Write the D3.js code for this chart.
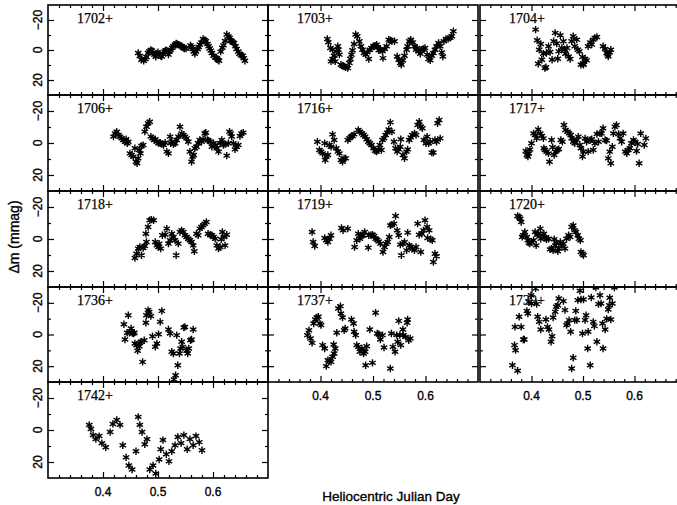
<!DOCTYPE html>
<html>
<head>
<meta charset="utf-8">
<script src="https://cdn.jsdelivr.net/npm/d3@7"></script>
<style>
  body { margin: 0; background: #fff; }
  svg { display: block; }
  text { stroke: #000; stroke-width: 0.35px; }
</style>
</head>
<body>
<div id="chart"></div>
<script>
// light curves: [fraction of HJD, delta m in mmag]
const s1702 = [[0.464,2.0],[0.467,4],[0.470,6.5],[0.474,7.2],[0.477,6],[0.479,4.7],[0.482,2],[0.484,0.9],[0.487,0],[0.489,0.4],[0.491,2],[0.493,3.1],[0.496,4.5],[0.498,2.5],[0.500,1.5],[0.502,2.7],[0.505,4],[0.507,4.3],[0.509,2.5],[0.512,0.9],[0.514,0.2],[0.516,0.4],[0.519,3.1],[0.521,1],[0.523,-0.2],[0.526,-1.5],[0.528,-2.5],[0.531,-3.5],[0.533,-4.3],[0.535,-4],[0.537,-3.6],[0.540,-3],[0.543,-2.5],[0.546,-1.5],[0.548,-0.9],[0.551,-1],[0.559,-3.1],[0.561,-2],[0.563,-0.7],[0.565,1],[0.567,2.5],[0.569,1],[0.572,-0.7],[0.574,-2],[0.576,-3.6],[0.579,-5],[0.582,-7.4],[0.585,-6.5],[0.587,-5.8],[0.590,-4],[0.592,-2.5],[0.594,-1],[0.596,0.4],[0.598,2],[0.601,3.8],[0.604,5],[0.607,5.4],[0.609,6.5],[0.611,7.2],[0.614,1.1],[0.617,-1.5],[0.619,-3.1],[0.622,-6],[0.625,-10.3],[0.628,-9],[0.630,-8.1],[0.632,-6.5],[0.634,-5.8],[0.636,-5],[0.638,-4.7],[0.641,-2.5],[0.643,-0.7],[0.646,1],[0.648,2.5],[0.651,3.5],[0.654,3.8],[0.656,5.5],[0.658,7.2]];
const s1703 = [[0.413,-7.4],[0.415,-5.1],[0.419,-1.3],[0.423,-0.2],[0.420,7.6],[0.423,6.0],[0.426,3.8],[0.428,7.6],[0.430,0.9],[0.433,-2.5],[0.434,-0.2],[0.436,3.1],[0.439,9.8],[0.442,10.5],[0.445,11.0],[0.448,11.6],[0.452,12.1],[0.455,8.7],[0.457,6.0],[0.459,3.1],[0.461,0.2],[0.464,-4.0],[0.467,-10.3],[0.470,-9.2],[0.474,-5.8],[0.477,-2.5],[0.480,-0.2],[0.483,2.0],[0.486,3.1],[0.489,1.6],[0.492,6.0],[0.494,-0.2],[0.497,-1.3],[0.501,-2.5],[0.504,-2.9],[0.507,-3.6],[0.509,-2.0],[0.511,0.2],[0.514,-0.2],[0.518,0.9],[0.519,5.4],[0.522,-0.7],[0.526,-2.5],[0.530,-6.9],[0.533,-6.5],[0.536,-5.8],[0.541,-5.8],[0.546,4.3],[0.549,6.5],[0.552,8.7],[0.554,9.8],[0.557,6.9],[0.560,3.8],[0.564,-0.2],[0.566,-2.5],[0.569,-5.8],[0.572,-6.9],[0.576,-5.1],[0.579,-2.5],[0.582,-0.2],[0.584,-1.3],[0.587,0.9],[0.590,2.5],[0.593,-0.2],[0.596,-0.7],[0.599,-1.3],[0.603,3.1],[0.606,6.0],[0.609,6.9],[0.612,3.8],[0.615,2.0],[0.618,-0.2],[0.621,-2.5],[0.625,-4.7],[0.628,-2.5],[0.631,1.6],[0.633,4.3],[0.635,-5.8],[0.639,-7.4],[0.643,-7.4],[0.647,-8.1],[0.650,-9.2],[0.653,-12.5]];
const s1704 = [[0.408,-13.6],[0.411,-6.5],[0.413,9.2],[0.415,-0.2],[0.418,-4.0],[0.420,6.5],[0.423,2.5],[0.426,12.1],[0.428,11.5],[0.429,2.0],[0.433,-2.5],[0.436,1.3],[0.440,6.5],[0.443,-5.8],[0.446,-11.4],[0.449,-4.3],[0.451,5.8],[0.453,0.9],[0.456,-9.8],[0.459,-1.3],[0.462,-5.8],[0.464,-0.2],[0.466,2.5],[0.469,-1.3],[0.472,4.3],[0.475,6.0],[0.478,-5.8],[0.481,-9.2],[0.484,-2.5],[0.488,-6.9],[0.490,-0.2],[0.493,0.9],[0.496,9.8],[0.499,4.7],[0.500,9.2],[0.501,9.8],[0.504,6.0],[0.507,6.9],[0.510,-2.5],[0.514,-5.1],[0.517,-3.6],[0.520,-6.9],[0.523,-8.1],[0.527,-8.7],[0.539,-2.5],[0.543,-0.7],[0.546,2.0],[0.548,3.0],[0.549,4.3],[0.552,1.6],[0.554,-0.2]];
const s1706 = [[0.419,-4.0],[0.422,-6.0],[0.425,-7.1],[0.428,-5.0],[0.431,-4.0],[0.434,-2.9],[0.437,-1.9],[0.440,-0.8],[0.442,-2.3],[0.444,0.2],[0.446,-0.8],[0.449,6.5],[0.452,7.5],[0.455,8.5],[0.458,3.3],[0.460,11.7],[0.462,12.7],[0.464,9.6],[0.466,4.4],[0.468,6.5],[0.470,1.9],[0.473,1.3],[0.476,-7.1],[0.479,-10.2],[0.482,-12.3],[0.485,-13.3],[0.487,-4.0],[0.490,-2.9],[0.493,-1.9],[0.495,-2.3],[0.498,-0.8],[0.501,0.2],[0.504,-0.2],[0.507,0.6],[0.510,1.3],[0.513,-0.2],[0.516,5.4],[0.519,6.5],[0.522,-4.0],[0.523,0.2],[0.525,-0.8],[0.528,0.6],[0.531,0.2],[0.534,-1.9],[0.537,-4.0],[0.540,-10.2],[0.543,-6.0],[0.546,-5.0],[0.549,-4.0],[0.552,-2.9],[0.555,-0.8],[0.558,5.4],[0.561,11.7],[0.563,8.5],[0.565,7.5],[0.567,3.3],[0.570,2.3],[0.573,0.2],[0.576,-1.9],[0.579,-0.8],[0.582,-2.3],[0.585,-6.0],[0.587,-6.5],[0.590,-1.9],[0.592,-1.5],[0.595,-0.8],[0.598,2.3],[0.601,0.2],[0.604,1.3],[0.607,3.3],[0.610,5.4],[0.613,0.2],[0.616,-1.9],[0.619,1.3],[0.622,0.6],[0.625,7.9],[0.628,0.2],[0.630,-7.1],[0.632,-6.0],[0.634,-4.0],[0.637,0.2],[0.640,4.0],[0.643,2.3],[0.646,1.3],[0.649,-4.4],[0.652,-6.0],[0.655,-6.5]];
const s1716 = [[0.394,-0.8],[0.398,4.4],[0.401,5.4],[0.404,6.5],[0.408,0.2],[0.409,10.6],[0.411,8.5],[0.414,7.5],[0.417,1.3],[0.420,2.3],[0.423,-5.4],[0.426,-1.9],[0.430,3.3],[0.433,5.4],[0.436,6.5],[0.439,10.6],[0.442,11.7],[0.445,9.6],[0.448,9.6],[0.452,-1.9],[0.455,-2.9],[0.458,-4.0],[0.461,-4.4],[0.464,-5.4],[0.472,-8.1],[0.475,-7.1],[0.479,-6.0],[0.482,-5.0],[0.485,-4.0],[0.488,-2.3],[0.491,-0.8],[0.494,0.2],[0.497,1.3],[0.501,3.3],[0.504,4.8],[0.507,5.4],[0.510,4.4],[0.513,1.3],[0.516,4.4],[0.518,-1.9],[0.521,-2.9],[0.524,-5.0],[0.527,-6.5],[0.530,-8.5],[0.533,-12.9],[0.536,-7.1],[0.540,-0.8],[0.543,3.3],[0.546,5.4],[0.549,4.0],[0.552,2.3],[0.553,-2.3],[0.557,7.5],[0.560,9.6],[0.564,5.4],[0.566,4.0],[0.569,-1.9],[0.572,-3.5],[0.575,-5.0],[0.579,-6.0],[0.582,-5.0],[0.585,-11.3],[0.588,-13.3],[0.591,-10.2],[0.594,-9.2],[0.597,-1.9],[0.601,0.2],[0.603,-4.0],[0.606,0.2],[0.609,-0.8],[0.612,6.0],[0.615,6.0],[0.618,-1.9],[0.621,-0.8],[0.623,-12.3],[0.626,-14.4],[0.628,-2.9]];
const s1717 = [[0.389,5.0],[0.391,7.5],[0.393,8.5],[0.395,6.5],[0.397,4.0],[0.400,0.2],[0.404,-6.0],[0.407,-5.0],[0.410,-2.9],[0.413,-8.5],[0.417,-6.0],[0.420,-4.4],[0.423,-2.9],[0.424,3.3],[0.426,4.4],[0.429,5.4],[0.433,6.5],[0.435,11.7],[0.439,-1.9],[0.441,2.7],[0.444,7.5],[0.447,5.4],[0.450,4.4],[0.453,3.8],[0.457,-1.9],[0.460,-0.8],[0.463,-11.3],[0.466,-8.1],[0.470,-7.1],[0.473,-6.0],[0.476,-5.0],[0.478,-2.9],[0.481,-0.8],[0.484,0.2],[0.488,-1.9],[0.491,-4.0],[0.494,1.3],[0.496,3.3],[0.499,8.5],[0.501,5.4],[0.504,-2.9],[0.507,-0.8],[0.510,5.4],[0.514,-1.9],[0.517,-2.3],[0.520,4.4],[0.523,0.2],[0.527,-5.6],[0.530,-0.8],[0.533,-6.0],[0.536,-6.0],[0.539,-9.2],[0.543,-1.9],[0.546,-1.5],[0.549,9.6],[0.552,5.4],[0.554,12.7],[0.557,2.3],[0.559,-6.0],[0.562,-10.2],[0.565,-11.3],[0.569,-5.6],[0.572,-2.9],[0.575,-0.8],[0.578,-6.0],[0.582,5.4],[0.585,6.5],[0.588,4.4],[0.591,3.3],[0.594,0.2],[0.598,-1.9],[0.601,-0.8],[0.604,5.0],[0.606,0.6],[0.609,12.7],[0.612,-6.0],[0.619,1.3],[0.622,-2.9]];
const s1718 = [[0.458,11.9],[0.461,9.2],[0.464,6.0],[0.467,5.0],[0.470,10.2],[0.473,5.6],[0.476,4.4],[0.478,-3.3],[0.479,1.9],[0.482,-7.5],[0.485,-11.7],[0.488,-12.1],[0.492,-11.7],[0.495,1.9],[0.498,4.0],[0.501,5.0],[0.502,2.9],[0.505,6.0],[0.508,-2.3],[0.513,-2.7],[0.516,-6.5],[0.519,2.9],[0.522,0.8],[0.525,-3.3],[0.528,-1.3],[0.531,0.8],[0.533,10.2],[0.537,2.9],[0.540,-4.4],[0.543,-5.4],[0.546,-4.4],[0.549,-2.3],[0.552,-1.3],[0.555,-0.2],[0.558,0.8],[0.561,1.9],[0.564,4.0],[0.566,7.7],[0.570,-3.3],[0.573,-2.3],[0.576,-6.5],[0.579,-7.5],[0.582,-8.5],[0.585,-9.6],[0.588,-10.6],[0.591,-3.3],[0.595,-2.7],[0.598,-2.3],[0.601,-1.3],[0.604,-0.2],[0.607,4.0],[0.610,6.0],[0.613,5.0],[0.615,0.2],[0.617,-4.4],[0.620,-1.3],[0.622,4.0],[0.625,-2.7]];
const s1719 = [[0.384,-4.4],[0.386,1.9],[0.389,4.4],[0.408,-0.6],[0.411,0.8],[0.414,1.9],[0.417,-0.2],[0.420,-2.3],[0.440,-6.9],[0.443,-5.4],[0.452,-6.5],[0.465,5.0],[0.469,0.8],[0.472,-3.3],[0.475,-0.2],[0.478,-1.9],[0.481,-2.3],[0.484,-4.4],[0.491,5.4],[0.492,-2.3],[0.496,-2.3],[0.499,-2.7],[0.502,-1.9],[0.505,-0.2],[0.508,0.4],[0.511,1.5],[0.514,2.9],[0.519,8.1],[0.522,5.0],[0.525,2.9],[0.528,1.9],[0.531,-1.3],[0.533,-8.5],[0.536,-9.0],[0.540,-9.6],[0.543,-14.4],[0.546,-5.4],[0.549,-2.3],[0.552,3.5],[0.554,10.2],[0.557,2.9],[0.560,1.9],[0.564,7.1],[0.566,-4.0],[0.569,4.0],[0.572,5.0],[0.575,6.0],[0.579,7.1],[0.582,5.0],[0.585,-9.6],[0.588,-2.7],[0.591,8.1],[0.593,-3.3],[0.596,-5.4],[0.599,-11.7],[0.603,-7.5],[0.604,-0.6],[0.607,-5.4],[0.610,0.2],[0.613,0.8],[0.615,14.4],[0.618,9.2],[0.621,10.8]];
const s1720 = [[0.373,-14.4],[0.376,-13.8],[0.378,-12.7],[0.380,-10.6],[0.382,-1.3],[0.384,-2.3],[0.387,-4.4],[0.391,-1.3],[0.393,0.8],[0.395,2.3],[0.397,2.9],[0.400,1.9],[0.404,0.8],[0.407,-4.4],[0.409,4.0],[0.411,-2.7],[0.413,-3.3],[0.417,-6.5],[0.418,-0.2],[0.421,-2.3],[0.424,-3.3],[0.426,-0.6],[0.429,0.2],[0.433,-0.2],[0.436,6.5],[0.439,6.0],[0.442,7.1],[0.444,0.2],[0.446,4.0],[0.448,2.3],[0.451,7.7],[0.453,6.0],[0.456,1.9],[0.459,4.0],[0.462,2.9],[0.465,6.0],[0.468,-0.2],[0.472,-2.3],[0.475,-1.3],[0.478,-7.5],[0.481,-8.5],[0.484,-5.4],[0.486,-4.4],[0.490,-2.3],[0.492,-0.2],[0.495,0.8],[0.496,8.1],[0.499,9.2],[0.501,10.2]];
const s1736 = [[0.438,-6.5],[0.440,3.2],[0.444,-1.1],[0.446,-12.2],[0.448,-1.1],[0.451,-3.8],[0.453,-1.1],[0.455,-0.6],[0.457,-1.1],[0.458,5.7],[0.461,6.7],[0.463,10.3],[0.466,7.4],[0.467,5.3],[0.469,4.6],[0.472,17.3],[0.475,3.6],[0.478,-7.4],[0.479,-12.2],[0.482,-15.4],[0.484,-14.3],[0.487,-11.6],[0.490,1.1],[0.495,7.8],[0.498,5.7],[0.501,-0.2],[0.504,-8.0],[0.507,-14.9],[0.519,-3.2],[0.522,-0.6],[0.525,10.9],[0.528,12.0],[0.529,28.4],[0.532,25.7],[0.534,0.4],[0.536,19.4],[0.539,12.0],[0.541,8.8],[0.543,4.6],[0.545,7.8],[0.547,-4.4],[0.549,-4.8],[0.552,10.3],[0.554,12.0],[0.556,8.8],[0.559,3.6],[0.561,3.2],[0.564,-3.2]];
const s1737 = [[0.375,0.4],[0.378,-2.7],[0.381,2.5],[0.384,5.3],[0.387,-6.9],[0.390,-9.5],[0.393,-10.7],[0.396,-11.2],[0.399,-6.9],[0.401,-5.9],[0.404,6.7],[0.408,8.8],[0.411,20.0],[0.414,16.2],[0.417,16.6],[0.420,17.3],[0.423,14.1],[0.425,6.3],[0.426,12.0],[0.428,8.8],[0.431,-1.1],[0.434,-16.4],[0.438,-17.9],[0.439,-13.3],[0.442,-10.7],[0.445,-2.7],[0.447,-3.8],[0.459,-9.5],[0.463,-6.9],[0.464,-1.7],[0.467,0.4],[0.469,6.7],[0.472,7.8],[0.475,10.9],[0.479,8.8],[0.482,12.0],[0.485,10.9],[0.486,19.4],[0.488,7.4],[0.494,-3.2],[0.499,17.9],[0.505,-13.7],[0.508,-0.6],[0.511,-0.2],[0.514,3.2],[0.518,0.4],[0.521,8.2],[0.533,21.5],[0.535,-0.6],[0.538,7.8],[0.542,10.9],[0.545,0.4],[0.547,4.6],[0.549,-8.6],[0.551,0.4],[0.553,6.7],[0.557,-3.2],[0.558,0.4],[0.562,1.5],[0.565,-7.4],[0.566,-9.5],[0.568,3.6],[0.571,2.5]];
const s1739 = [[0.363,19.4],[0.367,6.7],[0.369,9.9],[0.368,-4.8],[0.373,22.9],[0.376,-11.2],[0.380,-4.8],[0.384,3.2],[0.386,3.2],[0.391,-14.9],[0.393,-13.3],[0.395,-20.6],[0.399,-24.8],[0.400,-19.6],[0.408,-29.1],[0.410,-19.2],[0.412,-11.2],[0.415,-8.0],[0.418,-3.2],[0.428,-9.5],[0.431,-4.8],[0.434,-3.2],[0.438,4.6],[0.440,1.1],[0.442,-10.7],[0.446,-14.3],[0.448,-17.5],[0.451,-18.5],[0.453,-22.7],[0.462,-21.1],[0.465,-15.4],[0.468,-5.9],[0.470,-6.9],[0.473,-9.1],[0.476,-1.7],[0.478,21.5],[0.481,14.7],[0.484,-9.1],[0.486,-14.9],[0.488,-9.1],[0.490,-21.7],[0.494,-27.6],[0.496,-22.1],[0.499,-0.6],[0.501,-22.1],[0.504,-9.1],[0.506,-12.2],[0.509,8.8],[0.510,-1.7],[0.514,19.4],[0.516,-23.4],[0.520,-8.0],[0.522,-5.3],[0.525,-29.7],[0.527,4.6],[0.530,-19.2],[0.533,-24.8],[0.535,-19.6],[0.538,-6.9],[0.539,8.8],[0.543,-3.2],[0.546,-9.9],[0.549,-15.8],[0.551,-18.5],[0.552,-23.2],[0.554,-9.5],[0.557,-19.6],[0.561,-29.7]];
const s1742 = [[0.375,-3.2],[0.378,-0.6],[0.382,3.2],[0.387,5.7],[0.393,3.8],[0.398,8.2],[0.405,10.8],[0.413,1.3],[0.418,-3.8],[0.425,-6.3],[0.431,-3.2],[0.436,9.5],[0.442,17.1],[0.447,22.2],[0.453,24.7],[0.460,13.3],[0.464,-8.2],[0.467,-3.2],[0.471,1.3],[0.476,8.9],[0.480,5.7],[0.485,24.7],[0.491,22.2],[0.496,27.2],[0.502,18.4],[0.505,12.0],[0.509,6.3],[0.515,15.2],[0.520,19.6],[0.525,13.3],[0.531,9.5],[0.536,4.4],[0.542,8.2],[0.547,3.2],[0.553,12.0],[0.558,5.7],[0.564,9.5],[0.569,3.8],[0.575,7.6],[0.580,12.7]];

const starNames = ["1702+","1703+","1704+","1706+","1716+","1717+","1718+","1719+","1720+","1736+","1737+","1739+","1742+"];
const starData  = [s1702,s1703,s1704,s1706,s1716,s1717,s1718,s1719,s1720,s1736,s1737,s1739,s1742];
const xLabelTicks = [0.4, 0.5, 0.6];
const yLabelTicks = [-20, 0, 20];
const yTickLabels = ["\u221220", "0", "20"];

// layout of the grid
const W = 677, H = 505;
const colLeft  = [48, 268, 480];
const colRight = [268, 478, 686];
const rowTop    = [5, 95, 191, 287, 382];
const rowBottom = [95, 191, 287, 382, 478];
const xDomain = [0.3, 0.7], yDomain = [-30, 30];

const svg = d3.select("#chart").append("svg")
  .attr("width", W).attr("height", H);

// asterisk marker, 6 arms
const r = 3.7, ca = r * Math.cos(Math.PI / 6), sa = r * 0.5;
const star = `M0,${-r}L0,${r}M${-ca},${-sa}L${ca},${sa}M${-ca},${sa}L${ca},${-sa}`;

starNames.forEach(function(name, i) {
  const col = i % 3, row = Math.floor(i / 3);
  const x = d3.scaleLinear().domain(xDomain).range([colLeft[col], colRight[col]]);
  const y = d3.scaleLinear().domain(yDomain).range([rowTop[row], rowBottom[row]]);

  const g = svg.append("g");

  svg.append("clipPath").attr("id", "clip" + i)
    .append("rect")
    .attr("x", colLeft[col]).attr("y", rowTop[row])
    .attr("width", colRight[col] - colLeft[col])
    .attr("height", rowBottom[row] - rowTop[row]);

  const minorX = d3.range(16, 35, 1).map(d => d / 50).filter(d => xLabelTicks.indexOf(d) < 0);
  const minorY = [-10, 10];

  // inward ticks on four sides
  const axes = [
    [d3.axisBottom(x), "translate(0," + rowBottom[row] + ")", minorX, xLabelTicks],
    [d3.axisTop(x), "translate(0," + rowTop[row] + ")", minorX, xLabelTicks],
    [d3.axisLeft(y), "translate(" + colLeft[col] + ",0)", minorY, yLabelTicks],
    [d3.axisRight(y), "translate(" + colRight[col] + ",0)", minorY, yLabelTicks]
  ];
  axes.forEach(function(a) {
    const ax = a[0];
    g.append("g").attr("transform", a[1])
      .call(ax.tickValues(a[2]).tickSize(-3).tickFormat(""))
      .call(s => s.select(".domain").remove())
      .selectAll("line").attr("stroke-width", 1.2);
    g.append("g").attr("transform", a[1])
      .call(ax.tickValues(a[3]).tickSize(-6).tickFormat(""))
      .call(s => s.select(".domain").remove())
      .selectAll("line").attr("stroke-width", 1.2);
  });

  // frame
  g.append("rect")
    .attr("x", colLeft[col]).attr("y", rowTop[row])
    .attr("width", colRight[col] - colLeft[col])
    .attr("height", rowBottom[row] - rowTop[row])
    .attr("fill", "none").attr("stroke", "#000").attr("stroke-width", 1.6);

  // y labels on the first column
  if (col === 0) {
    g.selectAll(".ylab").data(yLabelTicks).enter().append("text")
      .attr("transform", d => "translate(42," + y(d) + ") rotate(-90)")
      .attr("text-anchor", "middle")
      .style("font-family", "Liberation Sans, sans-serif")
      .style("font-size", "12px")
      .text((d, k) => yTickLabels[k]);
  }

  // x labels under the bottom panel of each column
  const isBottom = (row === 4) || (row === 3 && col > 0);
  if (isBottom) {
    g.selectAll(".xlab").data(xLabelTicks).enter().append("text")
      .attr("x", d => x(d)).attr("y", rowBottom[row] + 18)
      .attr("text-anchor", "middle")
      .style("font-family", "Liberation Sans, sans-serif")
      .style("font-size", "12px")
      .text(d => d3.format(".1f")(d));
  }

  // star name
  g.append("text")
    .attr("x", colLeft[col] + 29).attr("y", rowTop[row] + 18)
    .style("font-family", "Liberation Serif, serif")
    .style("font-size", "14px")
    .style("stroke-width", "0.25px")
    .text(name);

  // points
  g.append("g").attr("clip-path", "url(#clip" + i + ")")
    .selectAll("path").data(starData[i]).enter().append("path")
    .attr("transform", d => "translate(" + x(d[0]) + "," + y(d[1]) + ")")
    .attr("d", star)
    .attr("stroke", "#000").attr("stroke-width", 1.4).attr("fill", "none");
});

// axis titles
svg.append("text")
  .attr("transform", "translate(19,237) rotate(-90)")
  .attr("text-anchor", "middle")
  .style("font-family", "Liberation Sans, sans-serif")
  .style("font-size", "14px")
  .text("\u0394m (mmag)");

svg.append("text")
  .attr("x", 391).attr("y", 501)
  .attr("text-anchor", "middle")
  .style("font-family", "Liberation Sans, sans-serif")
  .style("font-size", "13.5px")
  .text("Heliocentric Julian Day");
</script>
</body>
</html>
